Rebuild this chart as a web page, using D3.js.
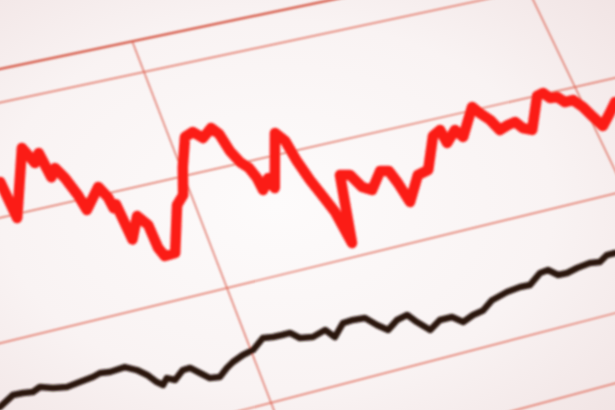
<!DOCTYPE html>
<html><head><meta charset="utf-8">
<script src="https://cdn.jsdelivr.net/npm/d3@7"></script>
<style>html,body{margin:0;padding:0;background:#f7f0f0;overflow:hidden;}</style>
</head><body>
<script>
// ---- data (flat chart units) ----
const gridValues = [65.4, 59.5, 40, 20, 0.5, -10.4];   // horizontal rules
const gridTimes  = [10, 20];                             // vertical rules
const redT = [5.91,6.01,6.64,6.81,6.97,7.06,7.21,7.35,7.50,7.58,8.01,8.14,8.18,8.26,8.34,8.63,8.80,8.83,8.91,9.16,9.60,9.82,10.05,10.36,10.58,10.76,11.03,11.16,11.25,11.38,11.53,11.62,11.65,11.87,11.93,12.44,12.60,12.68,12.80,12.93,13.07,13.16,13.53,13.76,13.92,14.12,14.49,14.69,14.78,14.87,15.32,15.61,16.07,16.30,16.33,16.65,16.77,17.30,17.42,17.59,17.71,17.96,18.16,18.28,18.48,18.98,19.16,19.27,19.45,19.58,19.80,19.96,20.09,20.22,20.54,20.80];
const redV = [45.95,39.34,50.87,47.84,49.40,44.82,46.24,44.18,40.85,38.02,41.43,39.38,37.29,37.86,31.47,35.13,33.23,29.10,27.53,27.63,35.42,36.86,41.56,46.59,47.15,45.73,47.15,45.81,42.47,40.21,38.85,36.85,34.60,36.42,34.47,43.82,42.06,38.17,34.45,31.47,28.13,22.36,34.12,33.73,31.24,30.34,33.22,32.87,30.49,26.83,31.05,31.49,37.11,37.87,35.35,37.27,35.75,40.60,39.23,37.61,35.48,36.02,36.27,34.90,34.19,39.94,40.23,39.06,38.96,37.75,37.78,36.15,33.99,32.01,34.00,35.73];
const blackT = [4.32,4.67,4.89,5.10,5.28,5.54,5.84,6.14,6.45,6.63,6.84,7.19,7.42,7.60,7.75,7.86,7.99,8.15,8.39,8.56,8.73,8.90,9.12,9.34,9.52,9.79,10.05,10.36,10.59,10.80,10.99,11.16,11.45,11.78,11.93,12.23,12.48,12.76,12.96,13.16,13.45,13.72,13.87,14.09,14.40,14.70,14.90,15.19,15.46,15.76,16.18,16.53,16.77,17.13,17.34,17.52,17.75,18.03,18.38,18.62,18.86,19.07];
const blackV = [10.30,11.61,11.54,11.31,11.80,11.15,10.77,11.03,11.30,11.64,11.41,11.60,10.68,9.53,8.08,7.39,8.30,7.69,8.90,8.94,7.79,6.63,6.40,7.50,8.19,8.88,9.26,10.73,10.49,10.45,10.45,9.28,8.92,9.54,8.05,9.92,10.00,9.84,8.26,7.04,8.25,8.64,7.14,5.36,6.53,6.52,5.29,5.99,6.30,7.56,8.27,8.54,8.45,9.97,10.13,8.92,8.87,9.27,9.55,9.30,10.15,10.15];

const W = 615, H = 410;

// flat chart scales
const x = d3.scaleLinear().domain([0, 30]).range([0, 1200]);
const y = d3.scaleLinear().domain([-30, 80]).range([1100, 0]);

// camera: the paper is photographed at an angle -> projective map of the flat chart
const anchorsFlat = [[x(10), y(40)], [x(20), y(40)], [x(10), y(20)], [x(20), y(20)]];
const anchorsImg  = [[184, 176], [575, 87], [227, 288], [625, 191]];
function solve(A, b) {
  const n = b.length;
  for (let i = 0; i < n; i++) {
    let m = i;
    for (let k = i + 1; k < n; k++) if (Math.abs(A[k][i]) > Math.abs(A[m][i])) m = k;
    [A[i], A[m]] = [A[m], A[i]]; [b[i], b[m]] = [b[m], b[i]];
    for (let k = i + 1; k < n; k++) {
      const f = A[k][i] / A[i][i];
      for (let j = i; j < n; j++) A[k][j] -= f * A[i][j];
      b[k] -= f * b[i];
    }
  }
  const r = new Array(n).fill(0);
  for (let i = n - 1; i >= 0; i--) {
    let s = b[i];
    for (let j = i + 1; j < n; j++) s -= A[i][j] * r[j];
    r[i] = s / A[i][i];
  }
  return r;
}
const M = [], rhs = [];
anchorsFlat.forEach((p, i) => {
  const [u, v] = p, [X, Y] = anchorsImg[i];
  M.push([u, v, 1, 0, 0, 0, -u * X, -v * X]); rhs.push(X);
  M.push([0, 0, 0, u, v, 1, -u * Y, -v * Y]); rhs.push(Y);
});
const h = solve(M, rhs);
function project(px, py) {
  const w = h[6] * px + h[7] * py + 1;
  return [(h[0] * px + h[1] * py + h[2]) / w, (h[3] * px + h[4] * py + h[5]) / w];
}
const P = (t, v) => project(x(t), y(v));

const svg = d3.select("body").append("svg").attr("width", W).attr("height", H);
const defs = svg.append("defs");
const bg = defs.append("radialGradient").attr("id", "bg").attr("cx", "45%").attr("cy", "50%").attr("r", "75%");
bg.append("stop").attr("offset", "0%").attr("stop-color", "#fdfbfb");
bg.append("stop").attr("offset", "60%").attr("stop-color", "#f9f3f3");
bg.append("stop").attr("offset", "100%").attr("stop-color", "#f1e4e4");
defs.append("filter").attr("id", "soft").attr("x", "-5%").attr("y", "-5%").attr("width", "110%").attr("height", "110%")
  .append("feGaussianBlur").attr("stdDeviation", 0.85);

svg.append("rect").attr("width", W).attr("height", H).attr("fill", "url(#bg)");

const g = svg.append("g").attr("filter", "url(#soft)");
const topRule = d3.max(gridValues);

// horizontal rules
g.selectAll("line.h").data(gridValues).join("line").attr("class", "h")
  .each(function (v) {
    const a = P(0, v), b = P(30, v);
    d3.select(this).attr("x1", a[0]).attr("y1", a[1]).attr("x2", b[0]).attr("y2", b[1]);
  })
  .attr("stroke", v => v === topRule ? "#d34e3b" : "#e06b5a")
  .attr("stroke-width", v => v === topRule ? 2.2 : 1.4);

// vertical rules (start at the top border rule)
g.selectAll("line.v").data(gridTimes).join("line").attr("class", "v")
  .each(function (t) {
    const a = P(t, topRule), b = P(t, -30);
    d3.select(this).attr("x1", a[0]).attr("y1", a[1]).attr("x2", b[0]).attr("y2", b[1]);
  })
  .attr("stroke", "#dd6656").attr("stroke-width", 1.3);

const line = d3.line().x(d => P(d[0], d[1])[0]).y(d => P(d[0], d[1])[1]);

g.append("path").datum(blackT.map((t, i) => [t, blackV[i]]))
  .attr("d", line).attr("fill", "none").attr("stroke", "#2b1511")
  .attr("stroke-width", 6.5).attr("stroke-linejoin", "round").attr("stroke-linecap", "round");

g.append("path").datum(redT.map((t, i) => [t, redV[i]]))
  .attr("d", line).attr("fill", "none").attr("stroke", "#fb1c18")
  .attr("stroke-width", 10.5).attr("stroke-linejoin", "round").attr("stroke-linecap", "round");
</script></body></html>
